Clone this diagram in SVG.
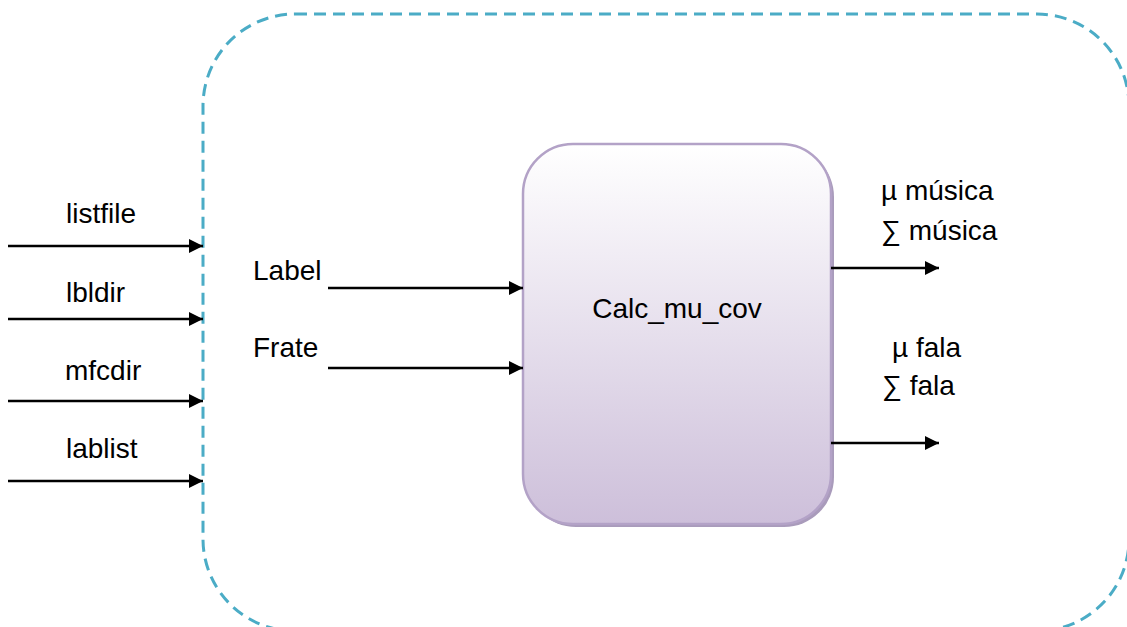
<svg xmlns="http://www.w3.org/2000/svg" width="1127" height="627" viewBox="0 0 1127 627">
  <style>
    .lbl { font-family: "Liberation Sans", Arial, sans-serif; font-size: 28px; fill: #000; }
    .wire { stroke: #000; stroke-width: 2.5; fill: none; marker-end: url(#arrow); }
    .boundary { fill: none; stroke: #4bacc6; stroke-width: 3; stroke-dasharray: 12 7; }
  </style>
  <defs>
    <marker id="arrow" viewBox="0 0 10 10" refX="10" refY="5" markerWidth="6.5" markerHeight="5.6" markerUnits="strokeWidth" orient="auto">
      <path d="M0,0 L10,5 L0,10 Z" fill="#000"/>
    </marker>
    <linearGradient id="boxFill" x1="0" y1="0" x2="0" y2="1">
      <stop offset="0" stop-color="#ffffff"/>
      <stop offset="1" stop-color="#cdbfda"/>
    </linearGradient>
  </defs>

  <!-- system boundary -->
  <g id="boundary">
    <rect class="boundary" x="203" y="14" width="926" height="617" rx="92" ry="92"/>
  </g>

  <!-- processing block -->
  <g id="calc_mu_cov">
    <rect x="526" y="147" width="308" height="380" rx="50" ry="50" fill="#a99bbb"/>
    <rect x="523" y="144" width="308" height="380" rx="50" ry="50" fill="url(#boxFill)" stroke="#b3a2c7" stroke-width="2.5"/>
    <text class="lbl" x="677" y="318" text-anchor="middle">Calc_mu_cov</text>
  </g>

  <!-- external inputs -->
  <g id="in_listfile"><text class="lbl" x="66" y="223">listfile</text></g>
  <g id="in_lbldir"><text class="lbl" x="66" y="302">lbldir</text></g>
  <g id="in_mfcdir"><text class="lbl" x="65" y="380">mfcdir</text></g>
  <g id="in_lablist"><text class="lbl" x="66" y="458">lablist</text></g>

  <!-- internal inputs -->
  <g id="in_label"><text class="lbl" x="253" y="280">Label</text></g>
  <g id="in_frate"><text class="lbl" x="253" y="357">Frate</text></g>

  <!-- outputs -->
  <g id="out_musica">
    <text class="lbl" x="881" y="200">µ música</text>
    <text class="lbl" x="881" y="240">∑ música</text>
  </g>
  <g id="out_fala">
    <text class="lbl" x="892" y="357">µ fala</text>
    <text class="lbl" x="882" y="395">∑ fala</text>
  </g>

  <!-- connectors -->
  <g id="connectors">
    <line class="wire" x1="8" y1="246" x2="203" y2="246"/>
    <line class="wire" x1="8" y1="319" x2="203" y2="319"/>
    <line class="wire" x1="8" y1="401" x2="203" y2="401"/>
    <line class="wire" x1="8" y1="481" x2="203" y2="481"/>
    <line class="wire" x1="328" y1="288" x2="523" y2="288"/>
    <line class="wire" x1="328" y1="368" x2="523" y2="368"/>
    <line class="wire" x1="831" y1="268" x2="939" y2="268"/>
    <line class="wire" x1="831" y1="443" x2="939" y2="443"/>
  </g>
</svg>
